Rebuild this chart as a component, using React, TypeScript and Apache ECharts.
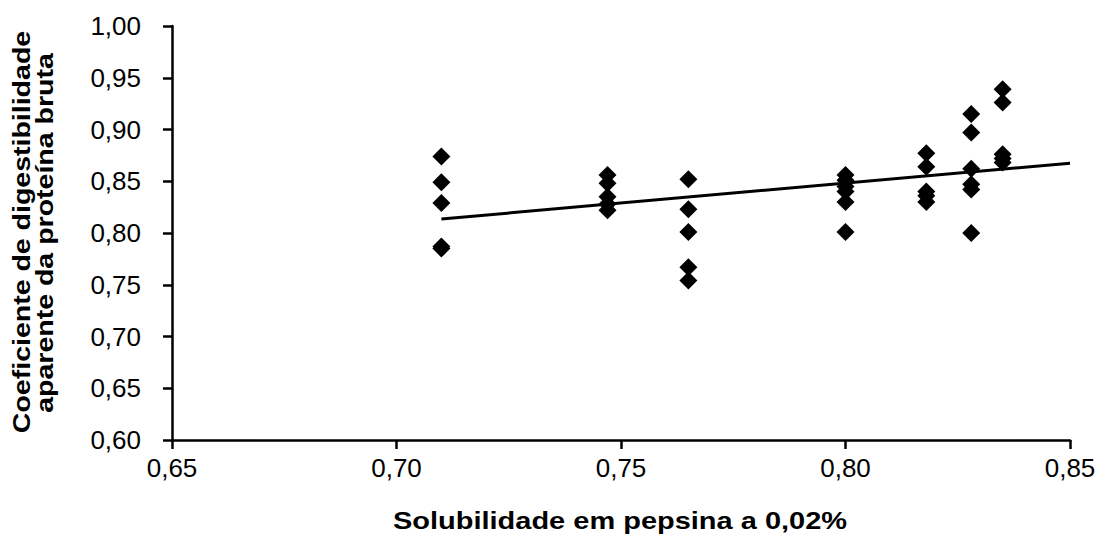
import React, { useEffect, useRef } from "react";
import * as echarts from "echarts";

// Scatter observations (solubility x, digestibility y)
const xValues: number[] = [
  0.71, 0.71, 0.71, 0.71, 0.71,
  0.747, 0.747, 0.747, 0.747, 0.747,
  0.765, 0.765, 0.765, 0.765, 0.765,
  0.80, 0.80, 0.80, 0.80, 0.80, 0.80,
  0.818, 0.818, 0.818, 0.818, 0.818,
  0.828, 0.828, 0.828, 0.828, 0.828, 0.828,
  0.835, 0.835, 0.835, 0.835, 0.835,
];
const yValues: number[] = [
  0.874, 0.849, 0.829, 0.787, 0.785,
  0.856, 0.848, 0.835, 0.828, 0.822,
  0.852, 0.823, 0.801, 0.767, 0.754,
  0.856, 0.851, 0.845, 0.840, 0.830, 0.801,
  0.877, 0.864, 0.840, 0.836, 0.830,
  0.915, 0.897, 0.862, 0.847, 0.842, 0.800,
  0.939, 0.926, 0.876, 0.872, 0.868,
];

// Linear trend line end points
const trendX: number[] = [0.71, 0.85];
const trendY: number[] = [0.8135, 0.8675];

const xTitle = "Solubilidade em pepsina a 0,02%";
const yTitleLines: string[] = ["Coeficiente de digestibilidade", "aparente da proteína bruta"];

const fmt = (v: number) => (Math.round(v * 100) / 100).toFixed(2).replace(".", ",");

export default function App() {
  const ref = useRef<HTMLDivElement>(null);
  useEffect(() => {
    if (!ref.current) return;
    const chart = echarts.init(ref.current, null, { renderer: "svg" });
    const font = "'Liberation Sans', Arial, sans-serif";
    const titleStyle = {
      fontFamily: font,
      fontSize: 23,
      fontWeight: "bold",
      fill: "#000",
      align: "center",
      verticalAlign: "middle",
    };
    chart.setOption({
      animation: false,
      backgroundColor: "#ffffff",
      grid: { left: 164, right: 33, top: 18, bottom: 98, containLabel: false },
      xAxis: {
        type: "value",
        min: 0.65,
        max: 0.85,
        interval: 0.05,
        axisLine: { show: true, lineStyle: { color: "#000", width: 2.5 } },
        axisTick: { show: true, inside: false, length: 9, lineStyle: { color: "#000", width: 2.5 } },
        axisLabel: {
          margin: 15,
          fontFamily: font,
          fontSize: 26,
          color: "#000",
          formatter: (v: number) => fmt(v),
        },
        splitLine: { show: false },
      },
      yAxis: {
        type: "value",
        min: 0.6,
        max: 1.0,
        interval: 0.05,
        axisLine: { show: true, lineStyle: { color: "#000", width: 2.5 } },
        axisTick: { show: true, inside: false, length: 9, lineStyle: { color: "#000", width: 2.5 } },
        axisLabel: {
          margin: 31,
          fontFamily: font,
          fontSize: 26,
          color: "#000",
          formatter: (v: number) => fmt(v),
        },
        splitLine: { show: false },
      },
      graphic: [
        {
          type: "text",
          x: 14,
          y: 224,
          rotation: Math.PI / 2,
          scaleX: 1.24,
          style: { text: yTitleLines[0], ...titleStyle },
        },
        {
          type: "text",
          x: 37,
          y: 225,
          rotation: Math.PI / 2,
          scaleX: 1.24,
          style: { text: yTitleLines[1], ...titleStyle },
        },
        {
          type: "text",
          x: 612,
          y: 513,
          scaleX: 1.26,
          style: { text: xTitle, ...titleStyle },
        },
      ],
      series: [
        {
          type: "line",
          data: trendX.map((x, i) => [x, trendY[i]]),
          symbol: "none",
          lineStyle: { color: "#000", width: 3 },
          z: 3,
        },
        {
          type: "scatter",
          data: xValues.map((x, i) => [x, yValues[i]]),
          symbol: "diamond",
          symbolSize: [18, 18],
          itemStyle: { color: "#000", opacity: 1 },
          z: 4,
        },
      ],
    });
    return () => chart.dispose();
  }, []);
  return <div ref={ref} style={{ width: 1095, height: 530 }} />;
}
